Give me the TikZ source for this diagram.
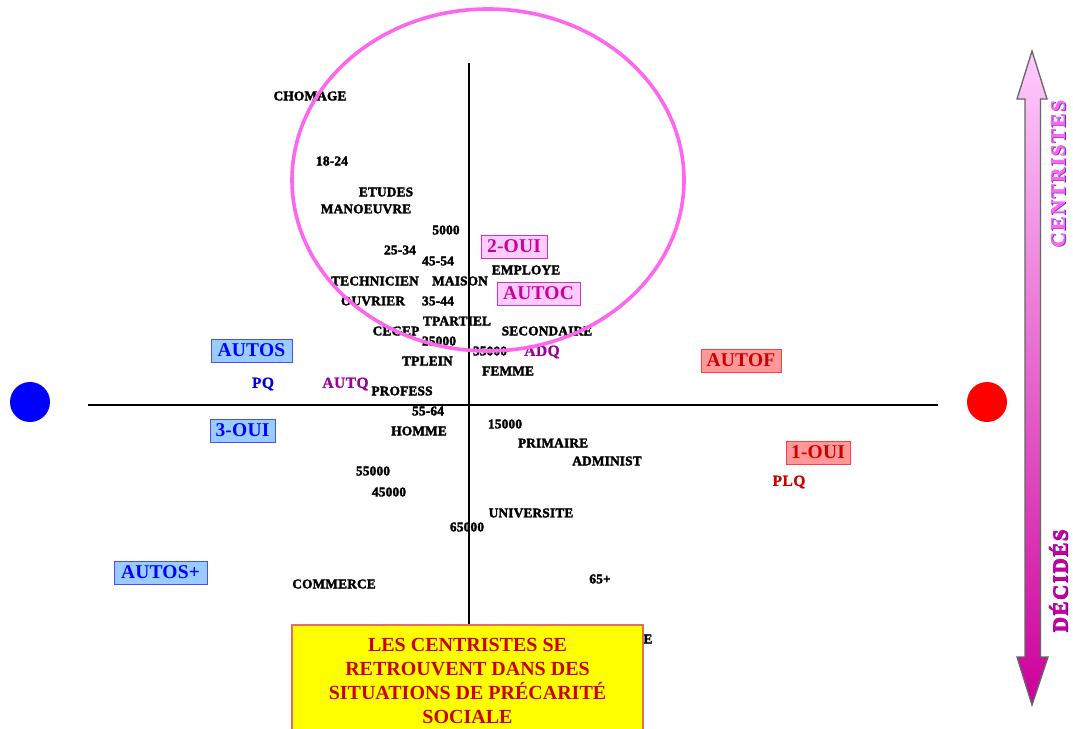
\documentclass[tikz,border=0pt]{standalone}
\usepackage{fontspec}
\setmainfont{Liberation Serif}
\newfontfamily\labfont[FakeBold=2.5,LetterSpace=1.5]{Liberation Serif Bold}
\newfontfamily\partyfont[FakeBold=1,LetterSpace=3]{Liberation Serif Bold}
\newfontfamily\sidefont[LetterSpace=7.5,FakeBold=0.8]{Liberation Serif Bold}
\newfontfamily\tagfont[LetterSpace=1]{Liberation Serif Bold}
\newfontfamily\boxfont{Liberation Serif Bold}
\usetikzlibrary{shapes.geometric}
\definecolor{bluefill}{HTML}{99CCFF}
\definecolor{pinkfill}{HTML}{FFCCFF}
\definecolor{redfill}{HTML}{FF9999}
\definecolor{magtxt}{HTML}{CC0099}
\definecolor{redtxt}{HTML}{CC0000}
\definecolor{ringcol}{HTML}{FF66EE}
\definecolor{pureyellow}{HTML}{FFFF00}
\definecolor{pureblue}{HTML}{0000FF}
\definecolor{purered}{HTML}{FF0000}
\definecolor{purpletxt}{HTML}{990099}
\definecolor{shadowblue}{HTML}{6633CC}
\definecolor{yellowedge}{HTML}{E07060}
\tikzset{
 x=1pt,y=-1pt,
 lab/.style={font=\labfont\fontsize{13.3}{13.3}\selectfont,inner sep=0pt,text=black},
 party/.style={font=\partyfont\fontsize{15.5}{15.5}\selectfont,inner sep=0pt},
 tagbox/.style={font=\tagfont\fontsize{19.5}{19.5}\selectfont,inner sep=0pt,line width=0.8pt,minimum height=23pt,anchor=center},
 bluetag/.style={tagbox,draw=pureblue!70!white,fill=bluefill,text=pureblue},
 pinktag/.style={tagbox,draw=magtxt!80!white,fill=pinkfill,text=magtxt},
 redtag/.style={tagbox,draw=purered!75!white,fill=redfill,text=redtxt},
 axis/.style={line width=1.6pt,black},
 dot/.style={circle,minimum size=40pt,inner sep=0pt},
 sidetxt/.style={font=\sidefont\fontsize{21}{21}\selectfont,inner sep=0pt,rotate=90},
 yline/.style={font=\boxfont\fontsize{20}{20}\selectfont,text=redtxt,inner sep=0pt,anchor=base},
}
\begin{document}
\begin{tikzpicture}
\useasboundingbox (0,0) rectangle (1073,728);
\fill[white] (0,0) rectangle (1073,728);
% axes
\coordinate (hl) at (88,405);\coordinate (hr) at (938,405);
\coordinate (vt) at (469,63);\coordinate (vb) at (469,640);
\draw[axis] (hl) -- (hr);
\draw[axis] (vt) -- (vb);
% dots
\node[dot,fill=pureblue] (bluedot) at (30,402) {};
\node[dot,fill=purered] (reddot) at (987,402) {};
% labels
\foreach \n/\t/\px/\py in {a1/CHOMAGE/310/96,a2/18-24/332/161,a3/ETUDES/386/192,a4/MANOEUVRE/366/209,a5/5000/446/230,a6/25-34/400/250,a7/45-54/438/261,a8/EMPLOYE/526/270,a9/TECHNICIEN/375/281,a10/MAISON/460/281,a11/OUVRIER/373/301,a12/35-44/438/301,a13/TPARTIEL/457/321,a14/CEGEP/396/331,a15/SECONDAIRE/547/331,a16/25000/439/341,a17/35000/490/351,a18/TPLEIN/427.5/361,a19/FEMME/508/371,a20/PROFESS/402/391,a21/55-64/428/411,a22/HOMME/419/431,a23/15000/505/424,a24/PRIMAIRE/553/443,a25/ADMINIST/607/461,a26/55000/373/471,a27/45000/389/492,a28/UNIVERSITE/531/513,a29/65000/467/527,a30/COMMERCE/334/584,a31/65+/600/579,a32/E/648/639}
 {\node[lab] (\n) at (\px,\py) {\t};}
% parties
\node[party,text=pureblue!85!black] (pq) at (263,384) {PQ};
\node[party,text=purpletxt] (autq) at (345.5,384) {AUTQ};
\node[party,text=purpletxt] (adq) at (542,352) {ADQ};
\node[party,text=redtxt] (plq) at (789,482) {PLQ};
% ellipse
\node[ellipse,draw=ringcol,line width=3.6pt,minimum width=392pt,minimum height=342pt,inner sep=0pt] (ring) at (488,180) {};
% tags
\node[bluetag,minimum width=81pt] (autos) at (251.5,350.5) {AUTOS};
\node[bluetag,minimum width=65pt] (oui3) at (242.5,430.5) {3-OUI};
\node[bluetag,minimum width=93pt] (autosp) at (160.5,572.5) {AUTOS+};
\node[pinktag,minimum width=66pt] (oui2) at (514,246.5) {2-OUI};
\node[pinktag,minimum width=83pt] (autoc) at (538.5,293.5) {AUTOC};
\node[redtag,minimum width=80pt] (autof) at (741,360.5) {AUTOF};
\node[redtag,minimum width=64pt] (oui1) at (818,452.5) {1-OUI};
% yellow box
\fill[pureyellow] (292,625) rectangle (643,735);
\draw[line width=1.2pt,draw=yellowedge] (292,735) -- (292,625) -- (643,625) -- (643,735);
\node[yline] (y1) at (467.5,651) {LES CENTRISTES SE};
\node[yline] (y2) at (467.5,675) {RETROUVENT DANS DES};
\node[yline] (y3) at (467.5,699) {SITUATIONS DE PRÉCARITÉ};
\node[yline] (y4) at (467.5,723) {SOCIALE};
% side arrow
\draw[draw=black!60,line width=1.3pt,top color=pinkfill,bottom color=magtxt]
 (1032,51) -- (1047,99) -- (1040.5,99) -- (1040.5,657) -- (1048,657) -- (1032,705) -- (1017,657) -- (1025,657) -- (1025,99) -- (1017,99) -- cycle;
% side text
\node[sidetxt,text=shadowblue] (cs) at (1059,174) {CENTRISTES};
\node[sidetxt,text=ringcol] (c) at (1058,173.5) {CENTRISTES};
\node[sidetxt,text=purpletxt!70!blue] (ds) at (1059,581) {DÉCIDÉS};
\node[sidetxt,text=magtxt] (d) at (1058,580.5) {DÉCIDÉS};
\end{tikzpicture}
\end{document}
